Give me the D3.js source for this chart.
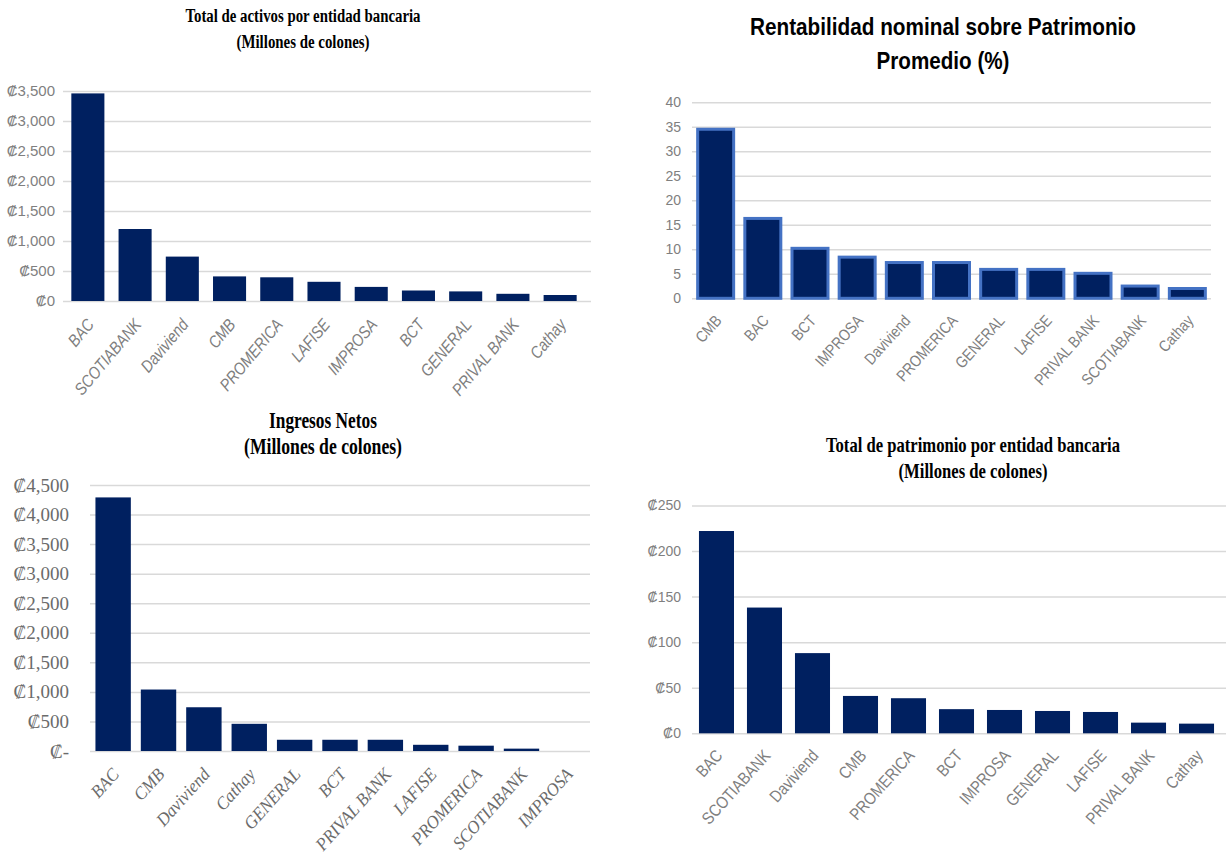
<!DOCTYPE html>
<html lang="es">
<head>
<meta charset="UTF-8">
<title>Indicadores por entidad bancaria</title>
<script src="https://cdn.jsdelivr.net/npm/d3@7"></script>
<style>
  body { margin: 0; background: #fff; }
  .grid line { stroke: #d9d9d9; stroke-width: 1.5; }
  .grid .domain { display: none; }
</style>
</head>
<body>
<svg id="chart" width="1228" height="861"></svg>
<script>
// Total de activos (millones de colones)
var activosBancos = ["BAC", "SCOTIABANK", "Daviviend", "CMB", "PROMERICA", "LAFISE", "IMPROSA", "BCT", "GENERAL", "PRIVAL BANK", "Cathay"];
var activosValores = [3460, 1200, 740, 410, 395, 320, 235, 175, 160, 120, 100];
var activosTicks = [0, 500, 1000, 1500, 2000, 2500, 3000, 3500];

// Rentabilidad nominal sobre patrimonio promedio (%)
var rentBancos = ["CMB", "BAC", "BCT", "IMPROSA", "Daviviend", "PROMERICA", "GENERAL", "LAFISE", "PRIVAL BANK", "SCOTIABANK", "Cathay"];
var rentValores = [34.5, 16.3, 10.2, 8.4, 7.3, 7.3, 5.9, 5.9, 5.1, 2.5, 2.0];
var rentTicks = [0, 5, 10, 15, 20, 25, 30, 35, 40];

// Ingresos netos (millones de colones)
var ingresosBancos = ["BAC", "CMB", "Daviviend", "Cathay", "GENERAL", "BCT", "PRIVAL BANK", "LAFISE", "PROMERICA", "SCOTIABANK", "IMPROSA"];
var ingresosValores = [4290, 1040, 740, 460, 190, 190, 190, 105, 90, 40, 0];
var ingresosTicks = [0, 500, 1000, 1500, 2000, 2500, 3000, 3500, 4000, 4500];

// Total de patrimonio (millones de colones)
var patrimonioBancos = ["BAC", "SCOTIABANK", "Daviviend", "CMB", "PROMERICA", "BCT", "IMPROSA", "GENERAL", "LAFISE", "PRIVAL BANK", "Cathay"];
var patrimonioValores = [222, 138, 88, 41, 38.5, 26.5, 25.6, 24.5, 23.4, 11.7, 10.6];
var patrimonioTicks = [0, 50, 100, 150, 200, 250];

var svg = d3.select("#chart");
svg.append("rect").attr("width", 1228).attr("height", 861).attr("fill", "#fff");

var sans = "'Liberation Sans', Arial, sans-serif";
var serif = "'Liberation Serif', 'Times New Roman', serif";
var colon = function(d) { return "\u20a1" + d3.format(",")(d); };

function drawChart(cfg) {
  var g = svg.append("g");

  var x = d3.scaleBand()
    .domain(cfg.bancos)
    .range([cfg.left, cfg.right])
    .paddingInner(cfg.pi)
    .paddingOuter(cfg.po);
  var y = d3.scaleLinear()
    .domain([0, d3.max(cfg.ticks)])
    .range([cfg.bottom, cfg.top]);

  // gridlines + y labels
  var yAxis = d3.axisLeft(y)
    .tickValues(cfg.ticks)
    .tickFormat(cfg.fmt)
    .tickSize(-(cfg.gridRight - cfg.gridLeft))
    .tickPadding(cfg.tickPad);
  var ga = g.append("g")
    .attr("class", "grid")
    .attr("transform", "translate(" + cfg.gridLeft + ",0)")
    .call(yAxis);
  ga.selectAll("text")
    .attr("fill", cfg.tickColor)
    .style("font-family", cfg.tickFont)
    .style("font-size", cfg.tickSize + "px");

  // bars
  g.selectAll(".bar")
    .data(cfg.valores)
    .enter().append("rect")
    .attr("class", "bar")
    .attr("x", function(d, i) { return x(cfg.bancos[i]); })
    .attr("width", x.bandwidth())
    .attr("y", function(d) { return y(d); })
    .attr("height", function(d) { return cfg.bottom - y(d); })
    .attr("fill", "#002060")
    .attr("stroke", cfg.stroke || "none")
    .attr("stroke-width", cfg.stroke ? 3 : 0);

  // rotated category labels (narrowed to mimic the condensed originals)
  g.selectAll(".cat")
    .data(cfg.bancos)
    .enter().append("text")
    .attr("class", "cat")
    .attr("transform", function(d) {
      return "translate(" + (x(d) + x.bandwidth() / 2 + cfg.labDx) + "," + (cfg.bottom + cfg.labDy) + ")" +
        " rotate(" + cfg.labAngle + ") scale(" + cfg.labScale + ",1)";
    })
    .attr("text-anchor", "end")
    .attr("fill", cfg.tickColor)
    .style("font-family", cfg.labFont)
    .style("font-size", cfg.labSize + "px")
    .style("font-style", cfg.labItalic ? "italic" : "normal")
    .text(function(d) { return d; });

  // title, two lines
  cfg.title.forEach(function(t) {
    g.append("text")
      .attr("x", cfg.titleX)
      .attr("y", t.y)
      .attr("text-anchor", "middle")
      .attr("textLength", t.w)
      .attr("lengthAdjust", "spacingAndGlyphs")
      .attr("fill", "#000")
      .style("font-family", cfg.titleFont)
      .style("font-weight", "bold")
      .style("font-size", t.size + "px")
      .text(t.text);
  });
}

drawChart({
  bancos: activosBancos, valores: activosValores, ticks: activosTicks, fmt: colon,
  left: 60, right: 588, gridLeft: 63, gridRight: 591, top: 91, bottom: 301, pi: 0.3, po: 0.24,
  tickPad: 8, tickColor: "#7f7f7f", tickFont: sans, tickSize: 15,
  labFont: sans, labSize: 17, labItalic: true, labScale: 0.85, labAngle: -50, labDx: 7, labDy: 24,
  titleFont: serif, titleX: 303,
  title: [
    {text: "Total de activos por entidad bancaria", y: 22, w: 235, size: 18},
    {text: "(Millones de colones)", y: 48, w: 133, size: 18}
  ]
});

drawChart({
  bancos: rentBancos, valores: rentValores, ticks: rentTicks, fmt: d3.format("d"),
  left: 692, right: 1211, gridLeft: 692, gridRight: 1211, top: 102.3, bottom: 298.3, pi: 0.237, po: 0.12,
  stroke: "#4472c4",
  tickPad: 11, tickColor: "#7f7f7f", tickFont: sans, tickSize: 14,
  labFont: sans, labSize: 16, labItalic: false, labScale: 0.85, labAngle: -48, labDx: 7, labDy: 23,
  titleFont: sans, titleX: 943,
  title: [
    {text: "Rentabilidad nominal sobre Patrimonio", y: 35, w: 386, size: 24},
    {text: "Promedio (%)", y: 69, w: 133, size: 24}
  ]
});

drawChart({
  bancos: ingresosBancos, valores: ingresosValores, ticks: ingresosTicks,
  fmt: function(d) { return d === 0 ? "\u20a1-" : colon(d); },
  left: 90, right: 590, gridLeft: 90, gridRight: 590, top: 485, bottom: 751, pi: 0.22, po: 0.12,
  tickPad: 21, tickColor: "#6b6b6b", tickFont: serif, tickSize: 19,
  labFont: serif, labSize: 18, labItalic: true, labScale: 0.95, labAngle: -48, labDx: 7, labDy: 24,
  titleFont: serif, titleX: 323,
  title: [
    {text: "Ingresos Netos", y: 428, w: 108, size: 23},
    {text: "(Millones de colones)", y: 454, w: 158, size: 23}
  ]
});

drawChart({
  bancos: patrimonioBancos, valores: patrimonioValores, ticks: patrimonioTicks, fmt: colon,
  left: 692, right: 1221, gridLeft: 692, gridRight: 1226, top: 505.5, bottom: 733.3, pi: 0.27, po: 0.145,
  tickPad: 11, tickColor: "#7f7f7f", tickFont: sans, tickSize: 14,
  labFont: sans, labSize: 17, labItalic: false, labScale: 0.85, labAngle: -48, labDx: 7, labDy: 23,
  titleFont: serif, titleX: 973,
  title: [
    {text: "Total de patrimonio por entidad bancaria", y: 452, w: 294, size: 21},
    {text: "(Millones de colones)", y: 478, w: 149, size: 21}
  ]
});
</script>
</body>
</html>
